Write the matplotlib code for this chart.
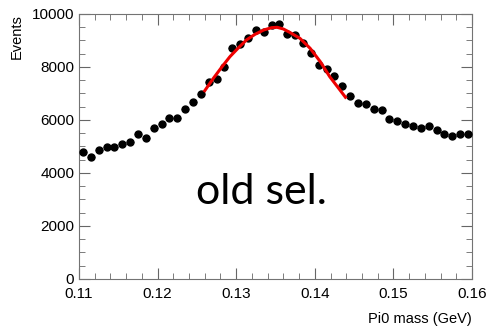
#!/usr/bin/env python3

import matplotlib.pyplot as plt
import numpy as np
from matplotlib.ticker import MultipleLocator

# bin centres (GeV) and counts
mass = np.round(np.arange(0.1105, 0.1600, 0.001), 4)
events = [4780, 4590, 4870, 4980, 4990, 5090, 5180, 5460, 5330, 5710,
          5840, 6060, 6090, 6420, 6690, 6990, 7430, 7550, 8010, 8700,
          8880, 9110, 9400, 9330, 9580, 9610, 9250, 9210, 8890, 8520,
          8090, 7940, 7650, 7300, 6910, 6650, 6620, 6430, 6370, 6040,
          5970, 5860, 5770, 5710, 5760, 5630, 5460, 5410, 5480, 5480]
bin_width = 0.001

# fitted curve, sampled along the red line
fit_x = [0.1260, 0.1271, 0.1282, 0.1292, 0.1303, 0.1313, 0.1324, 0.1335,
         0.1345, 0.1352, 0.1360, 0.1368, 0.1381, 0.1394, 0.1407, 0.1419,
         0.1432, 0.1439]
fit_y = [7106, 7574, 8011, 8389, 8728, 9019, 9234, 9396,
         9483, 9498, 9434, 9309, 9083, 8706, 8200, 7634,
         7132, 6857]

plt.rcParams['font.family'] = ['Liberation Sans', 'DejaVu Sans']

fig = plt.figure(figsize=(4.91, 3.26), dpi=100)
ax = fig.add_axes([0.1609, 0.1442, 0.8004, 0.8129])

ax.errorbar(mass, events, xerr=bin_width / 2, fmt='o', color='black',
            ecolor='0.45', elinewidth=0.8, markersize=5, capsize=0, zorder=3)
ax.plot(fit_x, fit_y, color='#ee0000', linewidth=2.2, zorder=4)

ax.set_xlim(0.11, 0.16)
ax.set_ylim(0, 10000)
ax.xaxis.set_major_locator(MultipleLocator(0.01))
ax.xaxis.set_minor_locator(MultipleLocator(0.002))
ax.yaxis.set_major_locator(MultipleLocator(2000))
ax.yaxis.set_minor_locator(MultipleLocator(500))
ax.xaxis.set_major_formatter(plt.FuncFormatter(lambda v, p: f'{v:.2f}'))

ax.tick_params(which='both', direction='in', top=True, right=True,
               color='0.4', labelsize=11)
ax.tick_params(which='major', length=8)
ax.tick_params(which='minor', length=4)
ax.tick_params(axis='x', pad=6)
for s in ax.spines.values():
    s.set_color('0.45')

ax.set_xlabel('Pi0 mass (GeV)', fontsize=10.5, loc='right', labelpad=8)
ax.set_ylabel('Events', fontsize=10.5, loc='top', labelpad=6)

ax.text(0.1332, 2830, 'old sel.', fontsize=31, family=['Lato', 'DejaVu Sans'],
        ha='center', va='baseline')

fig.savefig('out.png', dpi=100)
